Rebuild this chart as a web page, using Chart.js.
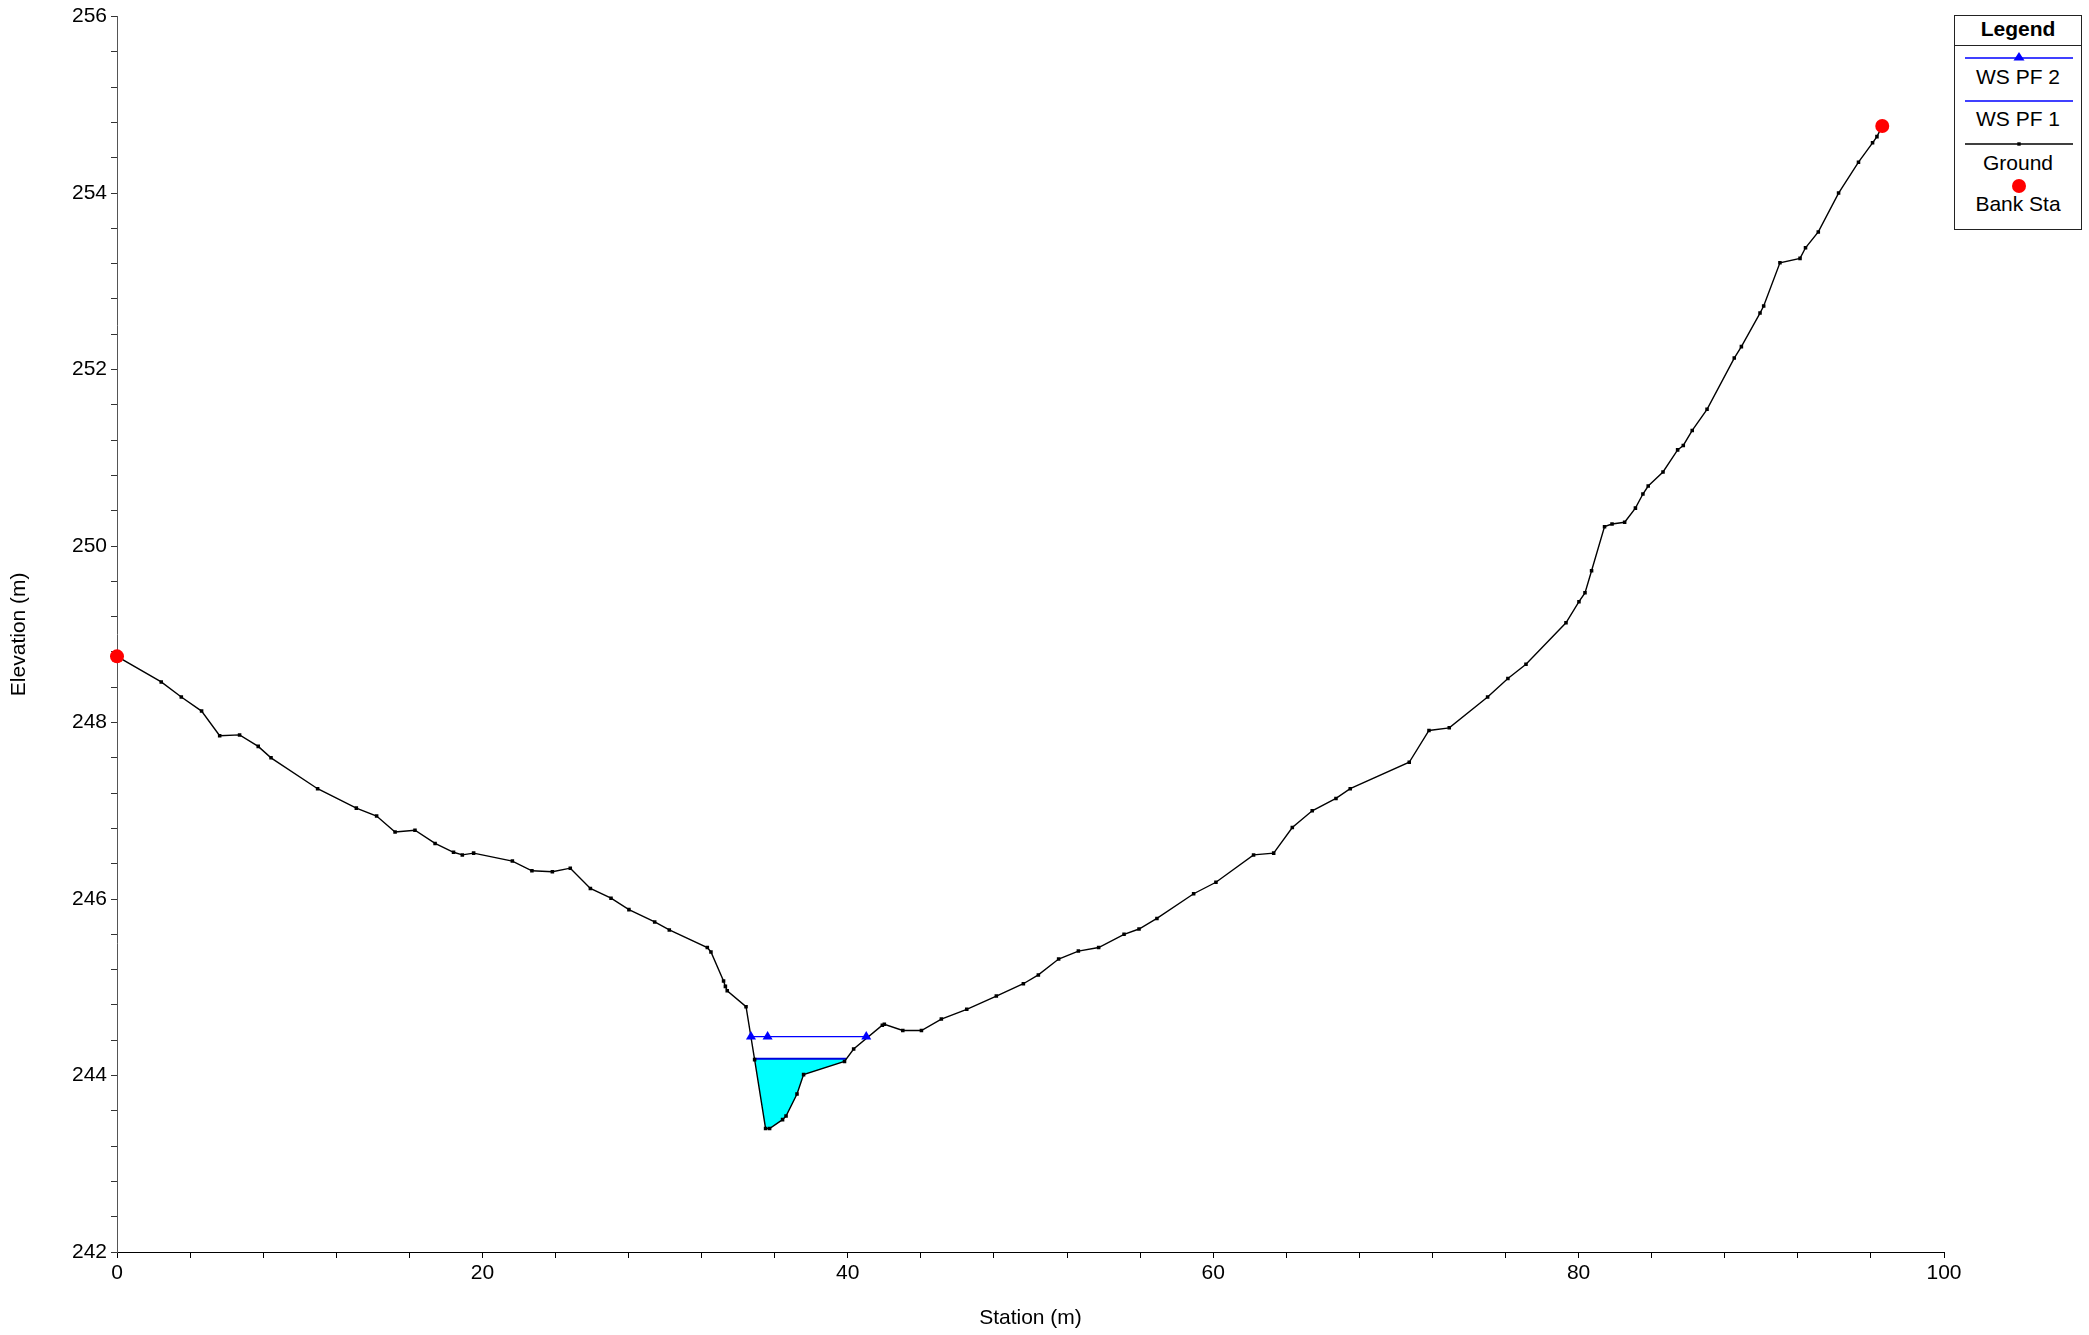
<!DOCTYPE html>
<html lang="en">
<head>
<meta charset="UTF-8">
<title>Cross Section - Station vs Elevation</title>
<script src="https://cdn.jsdelivr.net/npm/chart.js"></script>
<style>
  body { margin: 0; background: #fff; font-family: "Liberation Sans", Arial, sans-serif; }
  #wrap { position: relative; width: 2089px; height: 1335px; }
  #chart { position: absolute; left: 0; top: 0; }
  .legend { position: absolute; left: 1954px; top: 15px; width: 126px; height: 213px;
            border: 1px solid #222; background: #fff; color: #000; }
  .legend .t { position: absolute; left: 0; width: 100%; text-align: center;
               font-size: 21px; line-height: 22px; }
  .legend .head { font-weight: bold; }
  .legend .rule { position: absolute; left: 0; width: 100%; border-top: 1px solid #222; }
  .legend svg { position: absolute; left: 10px; }
</style>
</head>
<body>
<div id="wrap">
  <canvas id="chart" width="2089" height="1335"></canvas>
  <div class="legend">
    <div class="t head" style="top:2px">Legend</div>
    <div class="rule" style="top:29px"></div>
    <svg width="108" height="12" style="top:36px"><line x1="0" y1="6" x2="108" y2="6" stroke="blue" stroke-width="1.3"/><polygon points="54,0 59.5,8.5 48.5,8.5" fill="blue"/></svg>
    <div class="t" style="top:50px">WS PF 2</div>
    <svg width="108" height="12" style="top:79px"><line x1="0" y1="6" x2="108" y2="6" stroke="blue" stroke-width="1.3"/></svg>
    <div class="t" style="top:92px">WS PF 1</div>
    <svg width="108" height="12" style="top:122px"><line x1="0" y1="6" x2="108" y2="6" stroke="#000" stroke-width="1.3"/><rect x="52.3" y="4.3" width="3.4" height="3.4" fill="#000"/></svg>
    <div class="t" style="top:136px">Ground</div>
    <svg width="108" height="16" style="top:162px"><circle cx="54" cy="8" r="7" fill="red"/></svg>
    <div class="t" style="top:177px">Bank Sta</div>
  </div>
</div>

<script>
  // ground profile (station m, elevation m)
  const groundStation = [0, 2.42, 3.52, 4.63, 5.62, 6.71, 7.73, 8.43, 10.98, 13.10,
    14.21, 15.22, 16.31, 17.41, 18.42, 18.90, 19.52, 21.64, 22.71, 23.83,
    24.81, 25.91, 27.04, 28.02, 29.43, 30.23, 32.31, 32.51, 33.20, 33.30,
    33.40, 34.43, 34.90, 35.50, 35.72, 36.43, 36.62, 37.22, 37.58, 39.82,
    40.32, 41.89, 42.00, 43.01, 44.03, 45.12, 46.51, 48.13, 49.61, 50.43,
    51.54, 52.62, 53.73, 55.12, 55.94, 56.92, 58.93, 60.15, 62.21, 63.31,
    64.33, 65.42, 66.72, 67.50, 70.73, 71.81, 72.92, 75.02, 76.13, 77.12,
    79.31, 80.02, 80.35, 80.71, 81.42, 81.83, 82.52, 83.11, 83.52, 83.81,
    84.62, 85.42, 85.73, 86.22, 87.03, 88.52, 88.91, 89.93, 90.13, 91.02,
    92.12, 92.42, 93.12, 94.23, 95.32, 96.09, 96.33, 96.62];
  const groundElev = [248.75, 248.46, 248.29, 248.13, 247.85, 247.86, 247.73, 247.60, 247.25, 247.03,
    246.94, 246.76, 246.78, 246.63, 246.53, 246.50, 246.52, 246.43, 246.32, 246.31,
    246.35, 246.12, 246.01, 245.88, 245.74, 245.65, 245.45, 245.40, 245.07, 245.01,
    244.96, 244.78, 244.18, 243.40, 243.40, 243.50, 243.54, 243.79, 244.01, 244.16,
    244.30, 244.57, 244.58, 244.51, 244.51, 244.64, 244.75, 244.90, 245.04, 245.14,
    245.32, 245.41, 245.45, 245.60, 245.66, 245.78, 246.06, 246.19, 246.50, 246.52,
    246.81, 247.00, 247.14, 247.25, 247.55, 247.91, 247.94, 248.29, 248.50, 248.66,
    249.13, 249.37, 249.47, 249.72, 250.22, 250.25, 250.27, 250.43, 250.59, 250.68,
    250.84, 251.09, 251.14, 251.31, 251.55, 252.13, 252.26, 252.64, 252.72, 253.21,
    253.26, 253.38, 253.56, 254.00, 254.35, 254.57, 254.64, 254.76];

  const bankStation = [0, 96.62];
  const bankElev = [248.75, 254.76];

  const wsPf1Station = [34.90, 39.92];
  const wsPf1Elev = 244.19;
  const wsPf2Station = [34.70, 35.61, 41.01];
  const wsPf2Elev = 244.44;

  const xLabels = [0, 20, 40, 60, 80, 100];
  const yLabels = [242, 244, 246, 248, 250, 252, 254, 256];

  const ground = groundStation.map((s, i) => ({ x: s, y: groundElev[i] }));
  const bank = bankStation.map((s, i) => ({ x: s, y: bankElev[i] }));
  const ws1 = wsPf1Station.map(s => ({ x: s, y: wsPf1Elev }));
  const ws2 = wsPf2Station.map(s => ({ x: s, y: wsPf2Elev }));

  // wetted area for WS PF 1: water edge -> channel bed -> water edge
  const water = [ws1[0]]
    .concat(ground.filter(p => p.x > wsPf1Station[0] && p.x < wsPf1Station[1]))
    .concat([ws1[1]]);

  const isLabel = (list, v) => list.some(t => Math.abs(t - v) < 1e-6);
  const font = { family: "'Liberation Sans', Arial, sans-serif", size: 21 };

  new Chart(document.getElementById("chart"), {
    type: "line",
    data: {
      datasets: [
        { label: "Bank Sta", data: bank, showLine: false, pointStyle: "circle",
          pointRadius: 7, pointBackgroundColor: "red", pointBorderWidth: 0, clip: false, order: 0 },
        { label: "WS PF 2", data: ws2, borderColor: "blue", borderWidth: 1.3,
          pointStyle: "triangle", pointRadius: 5.8, pointBackgroundColor: "blue",
          pointBorderColor: "blue", pointBorderWidth: 0, order: 1 },
        { label: "Ground", data: ground, borderColor: "#000", borderWidth: 1.4,
          pointStyle: "rect", pointRadius: 2.5, pointBackgroundColor: "#000",
          pointBorderWidth: 0, order: 2 },
        { label: "WS PF 1", data: ws1, borderColor: "#0000dd", borderWidth: 2.2,
          pointRadius: 0, order: 3 },
        { label: "water", data: water, borderWidth: 0, pointRadius: 0,
          backgroundColor: "#00ffff", fill: "shape", order: 4 }
      ]
    },
    options: {
      responsive: false,
      animation: false,
      layout: { padding: { top: 16, right: 145, left: 0, bottom: 0 } },
      plugins: { legend: { display: false }, tooltip: { enabled: false } },
      elements: { line: { tension: 0 } },
      scales: {
        x: {
          type: "linear", min: 0, max: 100,
          afterFit: s => { s.height = 83; },
          border: { color: "#000", width: 1 },
          grid: { drawOnChartArea: false, tickLength: 6, tickColor: "#000" },
          ticks: { stepSize: 4, autoSkip: false, maxRotation: 0, padding: 3,
                   color: "#000", font: font,
                   callback: v => isLabel(xLabels, v) ? String(Math.round(v)) : "" },
          title: { display: true, text: "Station (m)", color: "#000", font: font,
                   padding: { top: 0, bottom: 4 } }
        },
        y: {
          type: "linear", min: 242, max: 256,
          afterFit: s => { s.width = 117; },
          border: { color: "#555", width: 1 },
          grid: { drawOnChartArea: false, tickLength: 6, tickColor: "#333" },
          ticks: { stepSize: 0.4, maxTicksLimit: 100, autoSkip: false, padding: 4,
                   color: "#000", font: font,
                   callback: v => isLabel(yLabels, v) ? String(Math.round(v)) : "" },
          title: { display: true, text: "Elevation (m)", color: "#000", font: font,
                   padding: { top: 7, bottom: 0 } }
        }
      }
    }
  });
</script>
</body>
</html>
